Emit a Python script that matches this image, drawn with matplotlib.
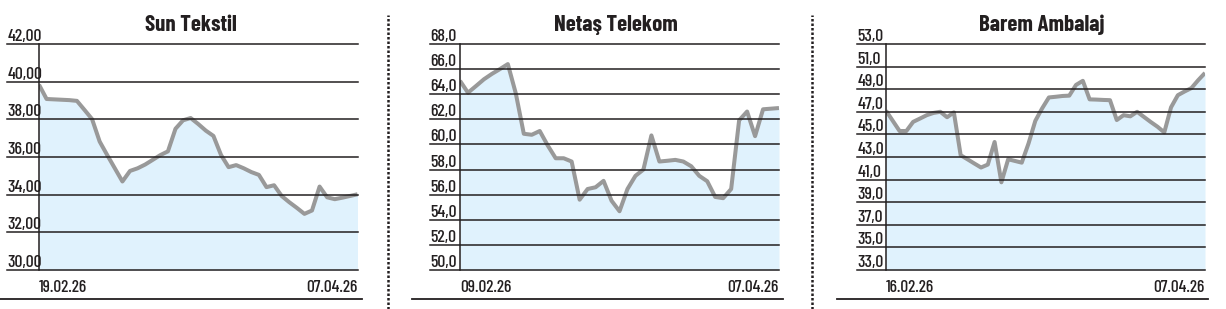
import matplotlib
matplotlib.use("Agg")
import matplotlib.pyplot as plt
from matplotlib.lines import Line2D
import numpy as np

plt.rcParams['font.family'] = ['Barlow Condensed', 'DejaVu Sans']

W, H = 1226, 309

# --- data ---
sun_title = "Sun Tekstil"
sun_dates = ["19.02.26", "07.04.26"]
sun_ticks = [30, 32, 34, 36, 38, 40, 42]
sun_vals = [39.84, 39.08, 39.06, 39.04, 39.02, 38.98, 38.5, 38.01, 36.82, 36.1,
            35.4, 34.70, 35.26, 35.40, 35.6, 35.85, 36.1, 36.3, 37.5, 37.95,
            38.07, 37.75, 37.4, 37.12, 36.11, 35.46, 35.57, 35.4, 35.2, 35.05,
            34.40, 34.50, 33.93, 33.6, 33.3, 32.98, 33.16, 34.43, 33.86, 33.76,
            33.84, 33.93, 34.02]

net_title = "Netaş Telekom"
net_dates = ["09.02.26", "07.04.26"]
net_ticks = [50, 52, 54, 56, 58, 60, 62, 64, 66, 68]
net_vals = [65.07, 64.12, 64.65, 65.19, 65.62, 66.0, 66.4, 64.06, 60.85, 60.77,
            61.07, 59.92, 58.9, 58.9, 58.64, 55.6, 56.45, 56.59, 57.1, 55.52,
            54.68, 56.45, 57.5, 58.0, 60.72, 58.64, 58.7, 58.77, 58.64, 58.26,
            57.5, 57.07, 55.82, 55.72, 56.45, 61.92, 62.62, 60.66, 62.8, 62.85,
            62.9]

bar_title = "Barem Ambalaj"
bar_dates = ["16.02.26", "07.04.26"]
bar_ticks = [33, 35, 37, 39, 41, 43, 45, 47, 49, 51, 53]
bar_vals = [47.1, 46.2, 45.3, 45.3, 46.11, 46.4, 46.7, 46.9, 47.0, 46.52,
            46.95, 43.16, 42.8, 42.43, 42.07, 42.33, 44.33, 40.76, 42.8, 42.65,
            42.5, 44.2, 46.2, 47.3, 48.27, 48.33, 48.4, 48.43, 49.38, 49.74,
            48.1, 48.08, 48.05, 48.03, 46.27, 46.7, 46.6, 47.0, 46.55, 46.1,
            45.68, 45.18, 47.4, 48.47, 48.8, 49.1, 49.8, 50.44]

FILL = '#e0f2fd'
LINE = '#999999'
INK = '#231f20'

fig = plt.figure(figsize=(W / 100, H / 100), dpi=100)


def panel(left, right, grid_start, rule, title, title_x, vals, ticks, fmt, dates):
    ax = fig.add_axes([left / W, 1 - 270 / H, (right - left) / W, (270 - 44) / H])
    x = np.arange(len(vals))
    ax.fill_between(x, vals, ticks[0], color=FILL, lw=0)
    ax.plot(x, vals, color=LINE, lw=2.9, solid_capstyle='butt')
    ax.set_xlim(0, len(vals) - 1)
    ax.set_ylim(ticks[0], ticks[-1])
    ax.set_xticks([])
    ax.set_yticks([])
    for s in ['top', 'right', 'bottom']:
        ax.spines[s].set_visible(False)
    ax.spines['left'].set_linewidth(1.1)
    ax.spines['left'].set_color(INK)

    g0 = (grid_start - left) / (right - left)
    for t in ticks:
        ax.axhline(t, xmin=g0, xmax=1, color=INK, lw=1.1, clip_on=False, zorder=3)
        ax.text(g0 + 0.002, t, fmt.format(t).replace('.', ','), transform=ax.get_yaxis_transform(),
                ha='left', va='bottom', fontsize=12.8, fontweight='medium', color=INK)

    ax.text((title_x - left) / (right - left), 1 + 19 / 226, title, transform=ax.transAxes,
            ha='center', va='center', fontsize=16.5, fontweight='bold', color=INK)
    ax.text(0, -17 / 226, dates[0], transform=ax.transAxes, ha='left', va='center',
            fontsize=12.5, fontweight='medium', color=INK)
    ax.text(1, -17 / 226, dates[1], transform=ax.transAxes, ha='right', va='center',
            fontsize=12.5, fontweight='medium', color=INK)
    fig.add_artist(Line2D([rule[0] / W, rule[1] / W], [1 - 299 / H] * 2, color=INK, lw=1.3))
    return ax


panel(39, 357.5, 7, (0, 362), sun_title, 190.7, sun_vals, sun_ticks, "{:.2f}", sun_dates)
panel(460, 779, 430, (412, 783), net_title, 616, net_vals, net_ticks, "{:.1f}", net_dates)
panel(886, 1205, 857, (837, 1208), bar_title, 1042, bar_vals, bar_ticks, "{:.1f}", bar_dates)

for sx in [388.3, 812]:
    fig.add_artist(Line2D([sx / W] * 2, [0, 1 - 15 / H], color=INK, lw=1.8,
                          linestyle=(0, (1, 0.8))))

fig.savefig("out.png", dpi=100, facecolor='white')
